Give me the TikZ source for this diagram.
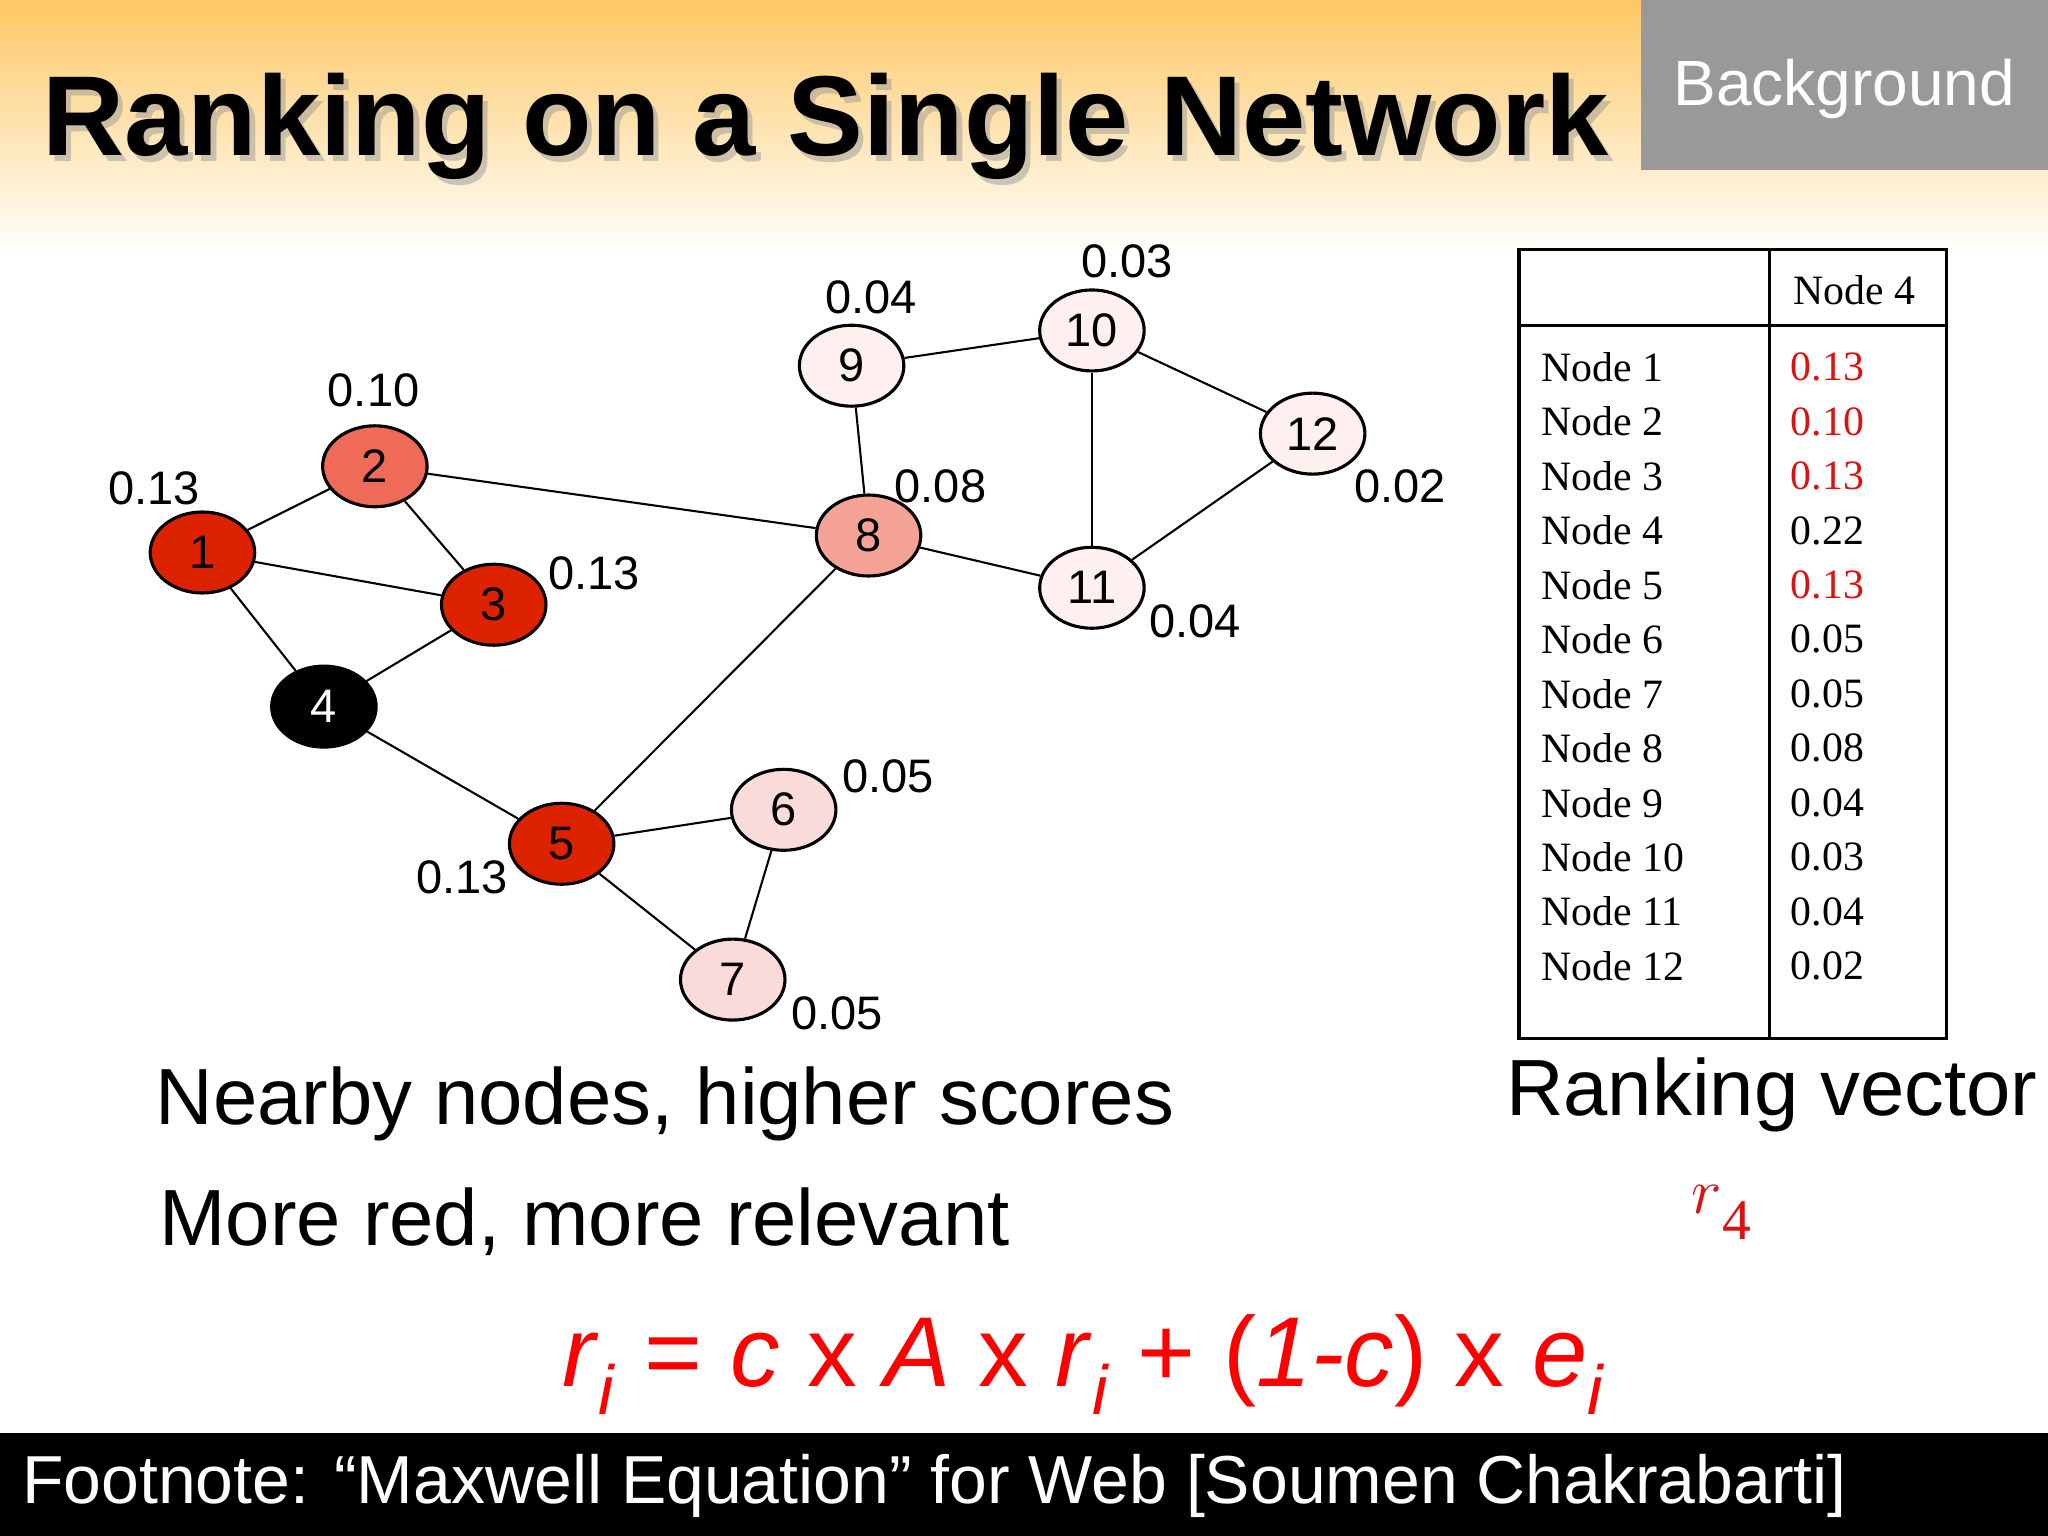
\documentclass[tikz,border=0pt]{standalone}
\usepackage{fontspec}
\setmainfont{Liberation Sans}
\newfontfamily\serif{Liberation Serif}
\begin{document}
\begin{tikzpicture}[x=0.5pt,y=-0.5pt,
  nd/.style={ellipse,draw=black,line width=1.2pt,minimum width=40pt,minimum height=31pt,inner sep=0pt,font=\fontsize{18}{18}\selectfont},
  sc/.style={font=\fontsize{18}{18}\selectfont},
  tb/.style={font=\serif\fontsize{16}{16}\selectfont,anchor=west},
  big/.style={font=\fontsize{30.5}{30.5}\selectfont,anchor=west}]
\usetikzlibrary{shapes.geometric}
\definecolor{dred}{HTML}{DD2200}
\definecolor{mred}{HTML}{F06A58}
\definecolor{lred}{HTML}{F4A396}
\definecolor{pk}{HTML}{F9DCDA}
\definecolor{vp}{HTML}{FDF0EE}
\definecolor{tred}{HTML}{DD1111}
\useasboundingbox (0,0) rectangle (1568,1176);
\fill[white] (0,0) rectangle (1568,1176);
\shade[top color={rgb,255:red,253;green,200;blue,100},bottom color=white] (0,0) rectangle (1568,195);
\fill[gray!80] (1256,0) rectangle (1568,130);
\node[text=white,font=\fontsize{24.5}{24.5}\selectfont] (bg) at (1412,68) {Background};
\node[font=\bfseries\fontsize{43.5}{43.5}\selectfont,text=black!40,opacity=0.5] (tsh) at (636,101) {Ranking on a Single Network};
\node[font=\bfseries\fontsize{43.5}{43.5}\selectfont] (title) at (632,97) {Ranking on a Single Network};
% graph
\node[nd,fill=dred] (n1) at (155,423) {1};
\node[nd,fill=mred] (n2) at (287,357) {2};
\node[nd,fill=dred] (n3) at (378,463) {3};
\node[nd,fill=black,text=white] (n4) at (248,541) {4};
\node[nd,fill=dred] (n5) at (430,646) {5};
\node[nd,fill=pk] (n6) at (600,620) {6};
\node[nd,fill=pk] (n7) at (561,750) {7};
\node[nd,fill=lred] (n8) at (665,410) {8};
\node[nd,fill=vp] (n9) at (652,280) {9};
\node[nd,fill=vp] (n10) at (836,253) {10};
\node[nd,fill=vp] (n11) at (836,450) {11};
\node[nd,fill=vp] (n12) at (1005,332) {12};
\foreach \a/\b in {n1/n2,n1/n3,n1/n4,n2/n3,n2/n8,n3/n4,n4/n5,n5/n8,n5/n6,n5/n7,n6/n7,n8/n9,n8/n11,n9/n10,n10/n11,n10/n12,n11/n12}
  \draw[line width=0.8pt] (\a) -- (\b);
\node[sc] (s1) at (118,374) {0.13};
\node[sc] (s2) at (286,299) {0.10};
\node[sc] (s3) at (455,439) {0.13};
\node[sc] (s8) at (720,372) {0.08};
\node[sc] (s9) at (667,228) {0.04};
\node[sc] (s10) at (863,200) {0.03};
\node[sc] (s12) at (1072,372) {0.02};
\node[sc] (s11) at (915,476) {0.04};
\node[sc] (s6) at (680,594) {0.05};
\node[sc] (s7) at (641,776) {0.05};
\node[sc] (s5) at (354,672) {0.13};
% table
\draw[line width=1.2pt] (1163,191) rectangle (1490,795);
\draw[line width=1.2pt] (1355,191) -- (1355,795);
\draw[line width=1.2pt] (1163,249) -- (1490,249);
\node[tb] (h) at (1366,222) {Node 4};
\foreach \i/\v/\c [count=\k from 0] in {1/0.13/tred,2/0.10/tred,3/0.13/tred,4/0.22/black,5/0.13/tred,6/0.05/black,7/0.05/black,8/0.08/black,9/0.04/black,10/0.03/black,11/0.04/black,12/0.02/black}{
  \node[tb] (r\i) at (1173,{281+\k*41.7}) {Node \i};
  \node[tb,text=\c] (v\i) at (1364,{281+\k*41.7}) {\v};
}
\node[big] (t1) at (112,845) {Nearby nodes, higher scores};
\node[big] (t2) at (115,935) {More red, more relevant};
\node[big] (t3) at (1146,838) {Ranking vector};
\node[text=tred,font=\serif\itshape\fontsize{36}{36}\selectfont] (r4) at (1318,928) {$r$\raisebox{-10pt}{\serif\upshape\fontsize{22}{22}\selectfont 4}};
\node[text=red,font=\fontsize{38}{38}\selectfont] (eq) at (830,1045) {\textit{r}\textsubscript{\textit{i}} = \textit{c} x \textit{A} x \textit{r}\textsubscript{\textit{i}} + (\textit{1-c}) x \textit{e}\textsubscript{\textit{i}}};
\fill[black] (0,1097) rectangle (1568,1176);
\node[text=white,font=\fontsize{26}{26}\selectfont,anchor=west] (fn) at (10,1138) {Footnote: “Maxwell Equation” for Web [Soumen Chakrabarti]};
\end{tikzpicture}
\end{document}
